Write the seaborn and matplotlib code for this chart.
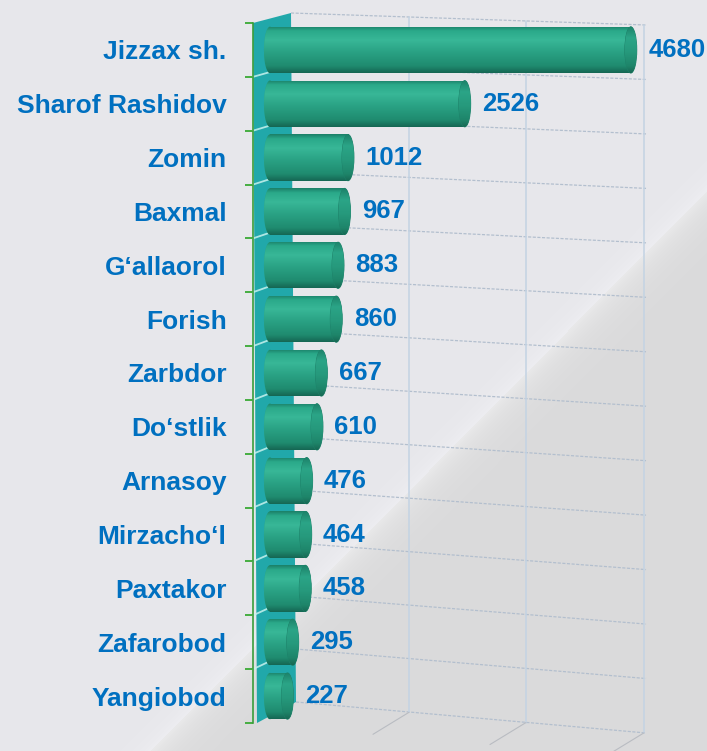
import numpy as np
import pandas as pd
import matplotlib
matplotlib.use("Agg")
import matplotlib.pyplot as plt
import seaborn as sns
from matplotlib.patches import Ellipse, Polygon
from matplotlib.colors import LinearSegmentedColormap

# ---- data ----
districts = ["Jizzax sh.", "Sharof Rashidov", "Zomin", "Baxmal", "G‘allaorol",
             "Forish", "Zarbdor", "Do‘stlik", "Arnasoy", "Mirzacho‘l",
             "Paxtakor", "Zafarobod", "Yangiobod"]
counts = [4680, 2526, 1012, 967, 883, 860, 667, 610, 476, 464, 458, 295, 227]

# ---- style ----
sns.set_theme(style="white")
plt.rcParams["font.family"] = ["Liberation Sans", "DejaVu Sans"]

BLUE = "#0070C0"
BODY = "#2aa486"
W, H = 707, 751
fig = plt.figure(figsize=(W / 100, H / 100), dpi=100)

# ---- background: light grey with a darker diagonal panel ----
yy, xx = np.mgrid[0:H, 0:W].astype(float)
x1, y1, x2, y2 = 707, 190, 150, 751
nx, ny = (y2 - y1), -(x2 - x1)
d = ((xx - x1) * nx + (yy - y1) * ny) / np.hypot(nx, ny)
light = np.array([231, 231, 235], float)
dark = np.array([218, 218, 219], float)
img = np.where(d[..., None] < 0,
               light + 6 * np.exp(np.minimum(d, 0) / 12)[..., None],
               dark + 15 * np.exp(-np.maximum(d, 0) / 16)[..., None])
img = np.clip(img, 0, 255) / 255
bg = fig.add_axes([0, 0, 1, 1])
bg.imshow(img, aspect="auto", interpolation="bilinear")
bg.axis("off")
bg.set_zorder(0)

# ---- main axes ----
AX_L, AX_R, AX_T, AX_B = 253, 646, 23, 723
ax = fig.add_axes([AX_L / W, (H - AX_B) / H, (AX_R - AX_L) / W, (AX_B - AX_T) / H])
ax.set_zorder(1)
ax.patch.set_alpha(0)

df = pd.DataFrame({"district": districts, "count": counts})
sns.barplot(data=df, x="count", y="district", orient="h", color=BODY,
            saturation=1, width=0.86, ax=ax, zorder=3)
bars = list(ax.patches)

XMIN, XMAX = -220, 4877
ax.set_xlim(XMIN, XMAX)
ax.set_ylim(12.5, -0.5)
px_per_unit = (AX_R - AX_L) / (XMAX - XMIN)
cap_w = 12 / px_per_unit


def P(px, py):
    """pixel position -> axes fraction"""
    return ((px - AX_L) / (AX_R - AX_L), (AX_B - py) / (AX_B - AX_T))


# side wall of the 3D frame
wall = Polygon([P(253, 23), P(291, 13), P(296, 702), P(257, 723)],
               closed=True, transform=ax.transAxes, facecolor="#21a8aa",
               edgecolor="none", zorder=1, clip_on=False)
ax.add_patch(wall)
for k in range(1, 13):
    ax.plot(*zip(P(253, 23 + 53.85 * k), P(291 + 5 * k / 13, 13 + 53 * k)),
            transform=ax.transAxes, color="#c8f2ee", lw=1.3, alpha=0.85,
            zorder=1.2, clip_on=False)

# back wall grid
for k in range(14):
    xa = 291 + 5 * k / 13
    ax.plot(*zip(P(xa, 13 + 53 * k), P(646, 25 + 54.46 * k)),
            transform=ax.transAxes, color="#b3bfce", lw=0.9,
            linestyle=(0, (2.5, 1.2)), zorder=1.5, clip_on=False)
for gx in [409, 526, 644]:
    f = (gx - 291) / 355
    top = 13 + 12 * f
    bot = 702 + 31 * f
    ax.plot(*zip(P(gx, top), P(gx, bot)), transform=ax.transAxes,
            color="#c3d3e3", lw=1.1, zorder=1.5, clip_on=False)
    ax.plot(*zip(P(gx, bot), P(gx - 36, bot + 22)), transform=ax.transAxes,
            color="#b9bcc2", lw=0.8, zorder=1.5, clip_on=False)

# ---- cylinder shading ----
body_cmap = LinearSegmentedColormap.from_list("body", [
    (0.0, "#1b7f67"), (0.10, "#2aa98a"), (0.30, "#38b797"),
    (0.55, "#2aa284"), (0.85, "#1f8b6f"), (1.0, "#156653")])
cap_cmap = LinearSegmentedColormap.from_list("cap", [
    (0.0, "#1c8068"), (0.25, "#2ba587"), (0.55, "#26997c"),
    (0.85, "#1e856a"), (1.0, "#176753")])
grad = np.linspace(0, 1, 256).reshape(-1, 1)

for patch in bars:
    x0, w = patch.get_x(), patch.get_width()
    y0, h = patch.get_y(), patch.get_height()
    yc = y0 + h / 2
    patch.set_edgecolor("none")

    left = Ellipse((x0, yc), cap_w, h, facecolor=BODY, edgecolor="none", zorder=2.9)
    ax.add_patch(left)
    for clip in (patch, left):
        im = ax.imshow(grad, cmap=body_cmap, extent=(x0 - cap_w, x0 + w, y0 + h, y0),
                       origin="upper", aspect="auto", interpolation="bilinear",
                       zorder=3.1)
        im.set_clip_path(clip)

    cap = Ellipse((x0 + w, yc), cap_w, h, facecolor="#26997c",
                  edgecolor="#1d8068", lw=0.6, zorder=3.3)
    ax.add_patch(cap)
    im = ax.imshow(grad, cmap=cap_cmap,
                   extent=(x0 + w - cap_w, x0 + w + cap_w, y0 + h, y0),
                   origin="upper", aspect="auto", interpolation="bilinear",
                   zorder=3.4)
    im.set_clip_path(cap)

    ax.annotate(f"{int(round(w))}", xy=(x0 + w, yc), xytext=(12.5, 0),
                textcoords="offset points", ha="left", va="center",
                fontsize=18.5, fontweight="bold", color=BLUE, zorder=5,
                annotation_clip=False)

ax.set_xlim(XMIN, XMAX)
ax.set_ylim(12.5, -0.5)

# ---- axes styling ----
for s in ("top", "right", "bottom"):
    ax.spines[s].set_visible(False)
ax.spines["left"].set_color("#3a9d3a")
ax.spines["left"].set_linewidth(1.2)
ax.spines["left"].set_zorder(4)
ax.set_xticks([])
ax.set_xlabel("")
ax.set_ylabel("")
ax.set_yticks(np.arange(-0.5, 13, 1), minor=True)
ax.tick_params(axis="y", which="minor", length=6, width=1.3, color="#3aaa35",
               direction="out", left=True)
ax.tick_params(axis="y", which="major", length=0, pad=19)
for lbl in ax.get_yticklabels():
    lbl.set_fontsize(19)
    lbl.set_fontweight("bold")
    lbl.set_color(BLUE)

fig.savefig("out.png", dpi=100)
